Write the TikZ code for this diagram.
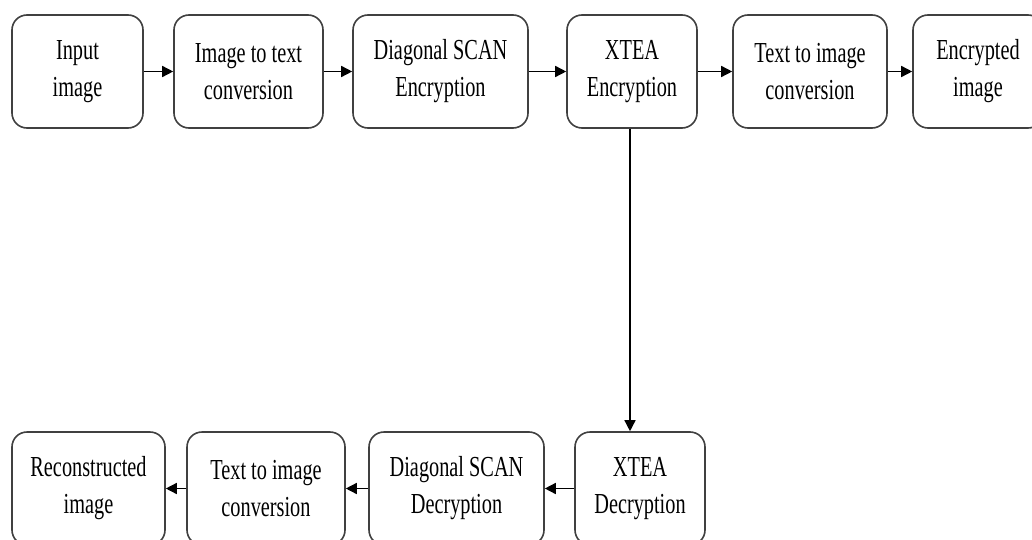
\documentclass[tikz,border=0pt]{standalone}
\usepackage{fontspec}
\setmainfont{Liberation Serif}[FakeStretch=0.7]
\usetikzlibrary{arrows.meta}
\begin{document}
\begin{tikzpicture}[x=1pt,y=-1pt,
  box/.style={draw=black!75, line width=1.6pt, rounded corners=15pt, align=center,
    inner sep=0pt, minimum height=113pt, font=\fontsize{29}{37}\selectfont, text=black},
  arr/.style={draw=black, line width=1.5pt, -{Triangle[length=11pt,width=11pt]}}]
\clip (0,0) rectangle (1032,540);
\fill[white] (0,0) rectangle (1032,540);
% top row
\node[box, minimum width=131pt] (b1) at (77.5,71.5) {Input\\image};
\node[box, minimum width=149pt] (b2) at (248.5,71.5) {Image to text\\conversion};
\node[box, minimum width=175pt] (b3) at (440.5,71.5) {Diagonal SCAN\\Encryption};
\node[box, minimum width=130pt] (b4) at (632,71.5) {XTEA\\Encryption};
\node[box, minimum width=154pt] (b5) at (810,71.5) {Text to image\\conversion};
\node[box, minimum width=130pt] (b6) at (978,71.5) {Encrypted\\image};
% bottom row
\node[box, minimum width=153pt] (d1) at (88.5,488.5) {Reconstructed\\image};
\node[box, minimum width=158pt] (d2) at (266,488.5) {Text to image\\conversion};
\node[box, minimum width=175pt] (d3) at (456.5,488.5) {Diagonal SCAN\\Decryption};
\node[box, minimum width=130pt] (d4) at (640,488.5) {XTEA\\Decryption};
% arrows
\draw[arr] (b1) -- (b2);
\draw[arr] (b2) -- (b3);
\draw[arr] (b3) -- (b4);
\draw[arr] (b4) -- (b5);
\draw[arr] (b5) -- (b6);
\draw[arr] ([xshift=-2pt]b4.south) -- ([xshift=-2pt]b4.south |- d4.north);
\draw[arr] (d4) -- (d3);
\draw[arr] (d3) -- (d2);
\draw[arr] (d2) -- (d1);
\end{tikzpicture}
\end{document}
